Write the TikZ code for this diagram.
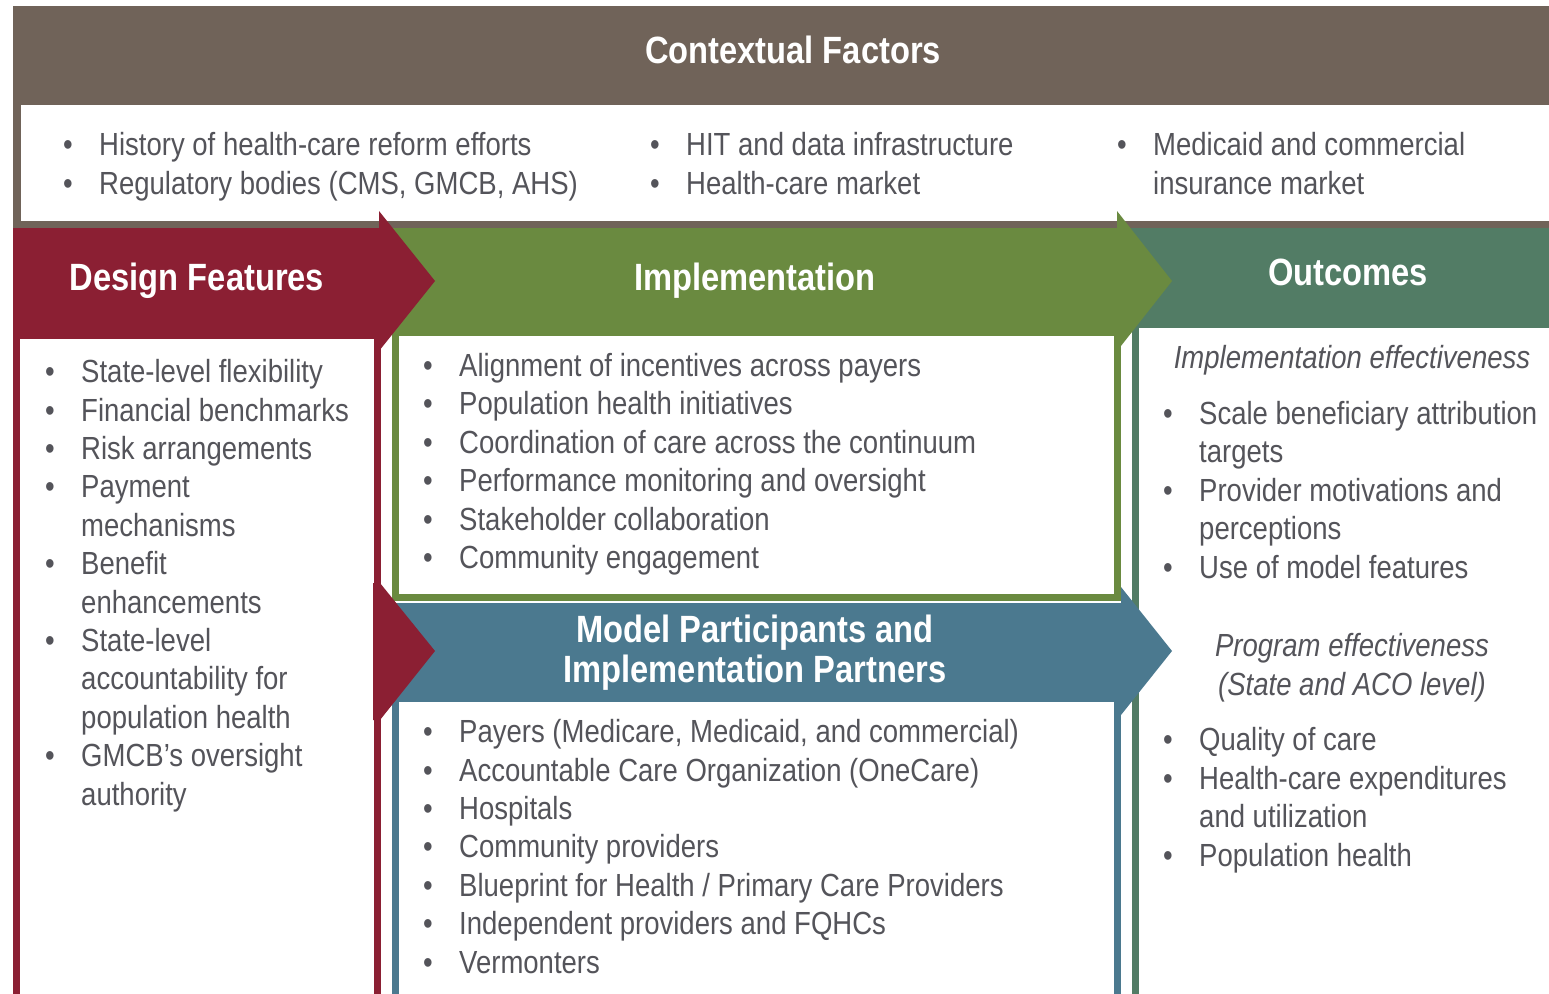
\documentclass[tikz,border=0pt]{standalone}
\usepackage{fontspec}
\setmainfont{Liberation Sans}[FakeStretch=0.86]
\definecolor{ctxbrown}{RGB}{112,99,89}
\definecolor{designred}{RGB}{139,31,51}
\definecolor{implgreen}{RGB}{106,138,64}
\definecolor{partblue}{RGB}{75,121,143}
\definecolor{outgreen}{RGB}{82,124,101}
\definecolor{bodygray}{RGB}{84,84,90}

\newcommand{\bitem}{\makebox[36pt][l]{\textbullet}}
\newcommand{\bcont}{\hspace*{36pt}}

\begin{document}
\begin{tikzpicture}[x=1pt, y=-1pt,
    head/.style={
        text=white, font=\fontsize{38}{40}\selectfont\bfseries,
        align=center, inner sep=0pt, anchor=base
    },
    list/.style={
        text=bodygray, font=\fontsize{32}{38.4}\selectfont,
        align=left, inner sep=0pt, anchor=base west
    },
    subhead/.style={
        text=bodygray, font=\fontsize{32}{39}\selectfont\itshape,
        align=center, inner sep=0pt, anchor=base
    },
    frame/.style={line width=7pt, fill=white},
]
\useasboundingbox (0,0) rectangle (1549,993);
\clip (0,0) rectangle (1549,993);

% Banda superior: factores de contexto
\fill[ctxbrown] (13,6) rectangle (1560,228);
\fill[white] (21,105) rectangle (1560,221);
\node[head] (ctxhead) at (793,63) {Contextual Factors};
% (las listas se anclan en la linea base de su ultima linea)
\node[list] (ctxa) at (63,194) {\bitem History of health-care reform efforts\\
    \bitem Regulatory bodies (CMS, GMCB, AHS)};
\node[list] (ctxb) at (650,194) {\bitem HIT and data infrastructure\\
    \bitem Health-care market};
\node[list] (ctxc) at (1117,194) {\bitem Medicaid and commercial\\
    \bcont insurance market};

% Columna derecha: resultados
\fill[outgreen] (1121,228) rectangle (1560,324);
\draw[frame, draw=outgreen] (1135.5,324) rectangle (1570,1010);

% Implementacion (flecha verde)
\draw[frame, draw=implgreen] (395,332) rectangle (1117,597);
\fill[implgreen] (380,228) -- (1117,228) -- (1117,211) -- (1172,281)
    -- (1117,351) -- (1117,332) -- (380,332) -- cycle;

% Participantes (flecha azul)
\draw[frame, draw=partblue] (395,698) rectangle (1117,1010);
\fill[partblue] (392,603) -- (1121,603) -- (1121,587) -- (1172,651)
    -- (1121,715) -- (1121,698) -- (392,698) -- cycle;

% Diseno (flecha roja y marco)
\draw[frame, draw=designred] (16.5,335.5) rectangle (377,1010);
\fill[designred] (13,228) -- (379,228) -- (379,211) -- (435,281)
    -- (379,351) -- (379,332) -- (13,332) -- cycle;
\fill[designred] (373,583) -- (380,583) -- (435,651) -- (380,720)
    -- (373,720) -- cycle;

% Encabezados
\node[head] (deshead) at (197,290) {Design Features};
\node[head] (implhead) at (755,290) {Implementation};
\node[head] (outhead) at (1348,285) {Outcomes};
\node[head] (parthead) at (755,682) {Model Participants and\\Implementation Partners};

% Listas
\node[list] (deslist) at (45,805) {\bitem State-level flexibility\\
    \bitem Financial benchmarks\\
    \bitem Risk arrangements\\
    \bitem Payment\\
    \bcont mechanisms\\
    \bitem Benefit\\
    \bcont enhancements\\
    \bitem State-level\\
    \bcont accountability for\\
    \bcont population health\\
    \bitem GMCB's oversight\\
    \bcont authority};

\node[list] (impllist) at (423,568.5) {\bitem Alignment of incentives across payers\\
    \bitem Population health initiatives\\
    \bitem Coordination of care across the continuum\\
    \bitem Performance monitoring and oversight\\
    \bitem Stakeholder collaboration\\
    \bitem Community engagement};

\node[list] (partlist) at (423,973) {\bitem Payers (Medicare, Medicaid, and commercial)\\
    \bitem Accountable Care Organization (OneCare)\\
    \bitem Hospitals\\
    \bitem Community providers\\
    \bitem Blueprint for Health / Primary Care Providers\\
    \bitem Independent providers and FQHCs\\
    \bitem Vermonters};

\node[subhead] (implsub) at (1352,368.5) {Implementation effectiveness};
\node[list] (implout) at (1163,578) {\bitem Scale beneficiary attribution\\
    \bcont targets\\
    \bitem Provider motivations and\\
    \bcont perceptions\\
    \bitem Use of model features};

\node[subhead] (progsub) at (1352,695.5) {Program effectiveness\\(State and ACO level)};
\node[list] (progout) at (1163,866) {\bitem Quality of care\\
    \bitem Health-care expenditures\\
    \bcont and utilization\\
    \bitem Population health};

\end{tikzpicture}
\end{document}
